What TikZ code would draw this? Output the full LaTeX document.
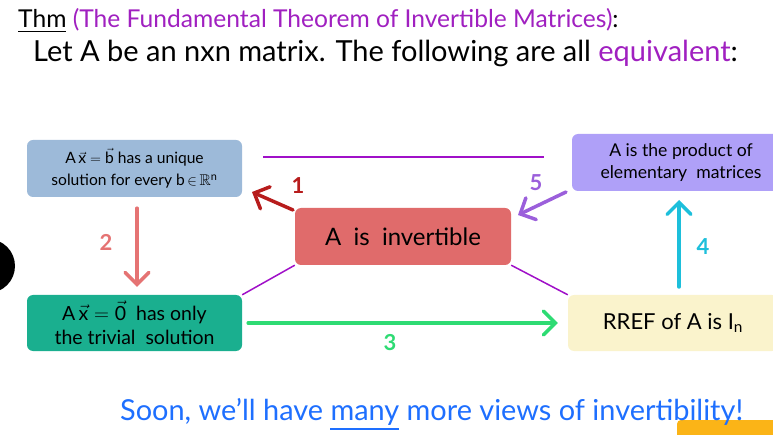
\documentclass[tikz,border=0pt]{standalone}
\usepackage{amsmath,amssymb}
\usepackage{fontspec}
\setmainfont{Lato}
\usetikzlibrary{arrows.meta}
\definecolor{tpurple}{HTML}{A020C0}
\definecolor{linkpurple}{HTML}{A010C8}
\definecolor{bluebox}{HTML}{9DBAD9}
\definecolor{greenbox}{HTML}{1AAF8F}
\definecolor{redbox}{HTML}{E06B6B}
\definecolor{purplebox}{HTML}{AFA0F8}
\definecolor{yellowbox}{HTML}{FAF3CC}
\definecolor{aone}{HTML}{B71C1C}
\definecolor{atwo}{HTML}{E57373}
\definecolor{athree}{HTML}{2EDB73}
\definecolor{afour}{HTML}{1DBFDB}
\definecolor{afive}{HTML}{9B5FDB}
\definecolor{sblue}{HTML}{1E6FFF}
\definecolor{orangebar}{HTML}{FBB417}
\begin{document}
\begin{tikzpicture}[x=1pt,y=-1pt,
  box/.style={rounded corners=6pt, inner sep=0pt, align=center},
  link/.style={draw=linkpurple, line width=1.5pt},
  arr/.style={line width=3.5pt, line cap=round, -{Straight Barb[length=12pt,width=24pt,line cap=round]}},
  lbl/.style={font=\bfseries\fontsize{22}{22}\selectfont}]
\useasboundingbox (0,0) rectangle (773,435);
% decorations at the edges
\fill[black] (-12,266) circle (27);
\fill[orangebar, rounded corners=4pt] (677,420) rectangle (790,445);
% title
\node[anchor=base west, inner sep=0pt, font=\fontsize{24.6}{27}\selectfont] (title) at (18,28)
  {\underline{Thm} \textcolor{tpurple}{(The Fundamental Theorem of Invertible Matrices)}:};
\node[anchor=base west, inner sep=0pt, font=\fontsize{29}{31}\selectfont] (lead) at (33,62)
  {Let A be an nxn matrix. The following are all \textcolor{tpurple}{equivalent}:};
% boxes
\node[box, fill=bluebox, minimum width=215pt, minimum height=57pt, font=\fontsize{15.6}{22}\selectfont] (blue) at (134.5,168.5)
  {A\,$\vec{\text{x}}\;{=}\;\vec{\text{b}}$ has a unique\\ solution for every b\,$\in$\,$\mathbb{R}^{\text{n}}$};
\node[box, fill=greenbox, minimum width=215pt, minimum height=56pt, font=\fontsize{19.5}{24}\selectfont] (green) at (134.5,323)
  {A\,$\vec{\text{x}}\;{=}\;\vec{\text{0}}$\ \ has only\\ the trivial\ \ solution};
\node[box, fill=redbox, minimum width=216pt, minimum height=57pt, font=\fontsize{24}{28}\selectfont] (red) at (403,236.5)
  {A\ \ is\ \ invertible};
\node[box, fill=purplebox, minimum width=218pt, minimum height=57pt, font=\fontsize{17.6}{22}\selectfont] (purple) at (681,162.5)
  {A is the product of\\ elementary\ \ matrices};
\node[box, fill=yellowbox, minimum width=210pt, minimum height=56pt, font=\fontsize{22}{26}\selectfont] (yellow) at (673,323)
  {RREF of A is I$_{\text{n}}$};
% plain links
\coordinate (topL) at (263,157);
\coordinate (topR) at (544,157);
\draw[link] (topL) -- (topR);
\draw[link] (red.south west) -- (green.north east);
\draw[link] (red.south east) -- (yellow.north west);
% numbered arrows
\coordinate (a1s) at (293,210);
\coordinate (a1e) at (252,192);
\draw[arr, aone] (a1s) -- (a1e);
\node[lbl, text=aone] (l1) at (298,186) {1};
\draw[arr, atwo, shorten <=11pt, shorten >=8pt] (blue.south -| 137,0) -- (green.north -| 137,0);
\node[lbl, text=atwo] (l2) at (106,242) {2};
\draw[arr, athree, shorten <=6pt, shorten >=10pt] (green.east) -- (yellow.west);
\node[lbl, text=athree] (l3) at (390,343) {3};
\coordinate (a4s) at (679,287);
\coordinate (a4e) at (679,200);
\draw[arr, afour] (a4s) -- (a4e);
\node[lbl, text=afour] (l4) at (703,247) {4};
\coordinate (a5s) at (566,192);
\coordinate (a5e) at (518,215);
\draw[arr, afive] (a5s) -- (a5e);
\node[lbl, text=afive] (l5) at (536,183) {5};
% bottom remark
\node[anchor=base west, inner sep=0pt, text=sblue, font=\fontsize{28.9}{30}\selectfont] (soon) at (120,420)
  {Soon, we'll have \underline{many} more views of invertibility!};
\end{tikzpicture}
\end{document}
